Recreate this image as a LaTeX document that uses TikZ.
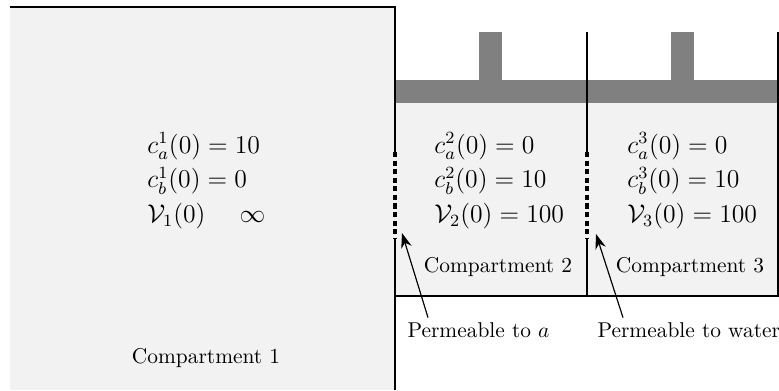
\documentclass[tikz,border=0pt]{standalone}
\usepackage{amsmath,amssymb}
\usepackage{tikz}
\usetikzlibrary{arrows.meta,positioning}

\begin{document}
\begin{tikzpicture}[
  x=0.467pt, y=-0.467pt,
  wall/.style={line width=0.6pt},
  memb/.style={line width=1.5pt, dash pattern=on 2.4pt off 1.6pt},
  fluid/.style={fill=black!5, draw=none},
  piston/.style={fill=black!50, draw=none},
  conc/.style={align=left, font=\large, inner sep=0pt, anchor=west},
  lbl/.style={font=\normalsize, anchor=base},
  arr/.style={-{Stealth[length=7pt,width=5pt]}, line width=0.55pt}
]
  \useasboundingbox (0,0) rectangle (779,390);

  % compartment 1
  \fill[fluid] (10,7) rectangle (395,390);
  % compartments 2 and 3, with the pistons
  \fill[fluid] (395,103) rectangle (778,296);
  \fill[piston] (395,80) rectangle (778,103);
  \fill[piston] (479,32) rectangle (502,80);
  \fill[piston] (671,32) rectangle (694,80);

  % membranes
  \coordinate (m1t) at (395,152);
  \coordinate (m1b) at (395,239);
  \coordinate (m2t) at (587,152);
  \coordinate (m2b) at (587,239);

  \draw[wall] (10,7) -- (395,7) -- (m1t);
  \draw[wall] (m1b) -- (395,390);
  \draw[wall] (587,32) -- (m2t);
  \draw[wall] (m2b) -- (587,296);
  \draw[wall] (395,296) -- (778,296) -- (778,32);
  \draw[memb] (m1t) -- (m1b);
  \draw[memb] (m2t) -- (m2b);

  \node[conc] (c1) at (147,181)
    {$c_a^1(0) = 10$\\[2.3pt] $c_b^1(0) = 0$\\[2.3pt] $\mathcal{V}_1(0) \quad\ \infty$};
  \node[conc] (c2) at (434,181)
    {$c_a^2(0) = 0$\\[2.3pt] $c_b^2(0) = 10$\\[2.3pt] $\mathcal{V}_2(0) = 100$};
  \node[conc] (c3) at (627,181)
    {$c_a^3(0) = 0$\\[2.3pt] $c_b^3(0) = 10$\\[2.3pt] $\mathcal{V}_3(0) = 100$};

  \node[lbl] (n1) at (206,363) {Compartment 1};
  \node[lbl] (n2) at (498,272) {Compartment 2};
  \node[lbl] (n3) at (690,272) {Compartment 3};

  \node[lbl, anchor=base west] (pa) at (400,337) {Permeable to $a$};
  \node[lbl, anchor=base west] (pw) at (590,337) {Permeable to water};

  \coordinate (ta) at (402,233);
  \coordinate (tw) at (596,234);
  \draw[arr] ([shift={(28,3)}]pa.north west) -- (ta);
  \draw[arr] ([shift={(33,3)}]pw.north west) -- (tw);
\end{tikzpicture}
\end{document}
